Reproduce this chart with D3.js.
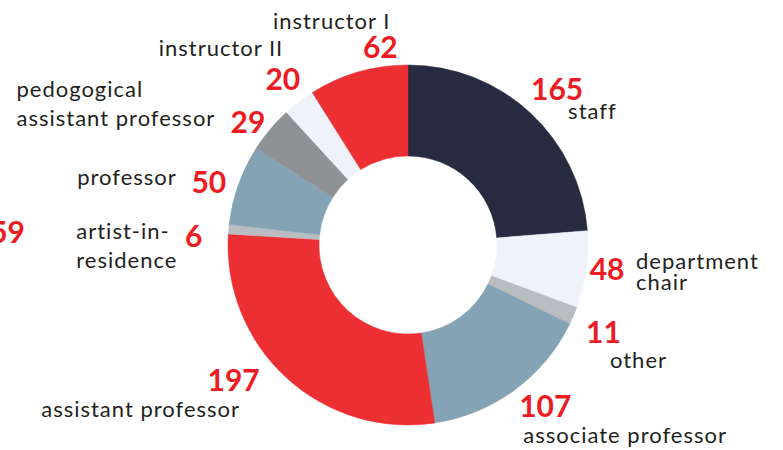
<!DOCTYPE html>
<html>
<head>
<meta charset="utf-8">
<script src="https://cdn.jsdelivr.net/npm/d3@7"></script>
<style>
  body { margin: 0; background: #fff; }
  svg { display: block; }
  .num { font-family: Lato, "Noto Sans", sans-serif; font-weight: 700; fill: #ed1c24; font-size: 30px; }
  .name { font-family: Lato, "Noto Sans", sans-serif; font-weight: 400; fill: #231f20; font-size: 22px; letter-spacing: 1px; }
</style>
</head>
<body>
<svg></svg>
<script>
// slices, clockwise from 12 o'clock
const categories = [
  "staff", "department chair", "other", "associate professor",
  "assistant professor", "artist-in-residence", "professor",
  "pedogogical assistant professor", "instructor II", "instructor I"
];
const counts = [165, 48, 11, 107, 197, 6, 50, 29, 20, 62];
const colors = [
  "#262b40", "#eff3f9", "#b9bdc1", "#84a3b5",
  "#ec2f32", "#b9bdc1", "#84a3b5", "#8e9295", "#eff3f9", "#ec2f32"
];
// how the name is broken over lines
const nameLines = [
  ["staff"], ["department", "chair"], ["other"], ["associate professor"],
  ["assistant professor"], ["artist-in-", "residence"], ["professor"],
  ["pedogogical", "assistant professor"], ["instructor II"], ["instructor I"]
];
// leftover number from the neighbouring chart, cut by the edge
const strayNumber = "59";

const width = 783;
const height = 450;
const cx = 408, cy = 245;
const outerR = 180, innerR = 89, labelR = 205;

// hand nudges for labels (number from label arc, name from number)
const numNudge = [[10, 6], [-4, 7], [7, 17], [16, 7], [-36, -5], [-10, 20], [-6, 17], [-3, 20], [-1, 8], [29, 10]];
const nameNudge = [
  { dx: 11, dy: 19, anchor: "start", lh: 21 },
  { dx: 29, dy: -11, anchor: "start", lh: 21 },
  { dx: 6.5, dy: 25, anchor: "start", lh: 21 },
  { dx: -22, dy: 26, anchor: "start", lh: 21 },
  { dx: 6.5, dy: 26, anchor: "end", lh: 21 },
  { dx: -117.5, dy: -8, anchor: "start", lh: 29 },
  { dx: -32, dy: -8, anchor: "end", lh: 21 },
  { dx: -231.5, dy: -36, anchor: "start", lh: 29 },
  { dx: 0.5, dy: -34, anchor: "end", lh: 21 },
  { dx: 10, dy: -29, anchor: "end", lh: 21 }
];

const data = categories.map((c, i) => ({ name: c, value: counts[i], color: colors[i], lines: nameLines[i], i }));

const svg = d3.select("svg").attr("width", width).attr("height", height);
const g = svg.append("g").attr("transform", `translate(${cx},${cy})`);

const pie = d3.pie().value((d) => d.value).sort(null);
const arc = d3.arc().innerRadius(innerR).outerRadius(outerR);
const labelArc = d3.arc().innerRadius(labelR).outerRadius(labelR);

const arcs = pie(data);

g.selectAll("path")
  .data(arcs)
  .enter()
  .append("path")
  .attr("d", arc)
  .attr("fill", (d) => d.data.color)
  .attr("stroke", (d) => d.data.color)
  .attr("stroke-width", 0.5);

const lab = g.selectAll("g.lab")
  .data(arcs)
  .enter()
  .append("g")
  .attr("class", "lab")
  .attr("transform", (d) => {
    const [x, y] = labelArc.centroid(d);
    const n = numNudge[d.data.i];
    return `translate(${x + n[0]},${y + n[1]})`;
  });

lab.append("text")
  .attr("class", "num")
  .attr("text-anchor", "middle")
  .text((d) => d.data.value);

lab.each(function (d) {
  const nn = nameNudge[d.data.i];
  const t = d3.select(this).append("text")
    .attr("class", "name")
    .attr("text-anchor", nn.anchor)
    .attr("x", nn.dx)
    .attr("y", nn.dy);
  d.data.lines.forEach((line, k) => {
    t.append("tspan")
      .attr("x", nn.dx)
      .attr("y", nn.dy + k * nn.lh)
      .text(line);
  });
});

svg.append("text")
  .attr("class", "num")
  .attr("text-anchor", "end")
  .attr("x", 25)
  .attr("y", 243)
  .text(strayNumber);
</script>
</body>
</html>
